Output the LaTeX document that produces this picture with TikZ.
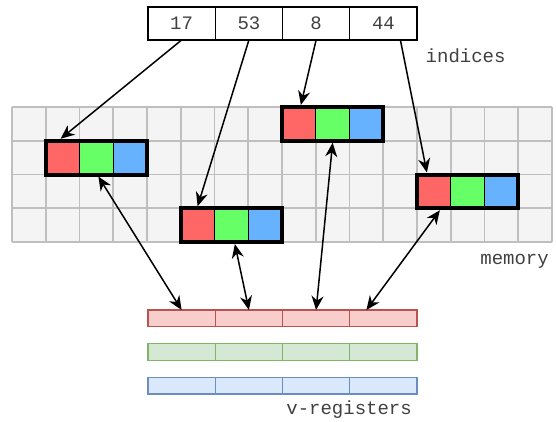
\documentclass[tikz,border=0pt]{standalone}
\usepackage{fontspec}
\setmonofont{Liberation Mono}
\usetikzlibrary{arrows.meta,calc}
\definecolor{memfill}{HTML}{F4F4F4}
\definecolor{memline}{HTML}{BFBFBF}
\definecolor{cred}{HTML}{FF6666}
\definecolor{cgreen}{HTML}{66FF66}
\definecolor{cblue}{HTML}{66B2FF}
\definecolor{rfill}{HTML}{F8CECC}\definecolor{rline}{HTML}{B85450}
\definecolor{gfill}{HTML}{D5E8D4}\definecolor{gline}{HTML}{82B366}
\definecolor{bfill}{HTML}{DAE8FC}\definecolor{bline}{HTML}{6C8EBF}
\begin{document}
\begin{tikzpicture}[x=1pt,y=-1pt,
  lbl/.style={font=\ttfamily\fontsize{19}{19}\selectfont, text=black!75, inner sep=0pt},
  idxcell/.style={draw=black, line width=1.3pt, minimum width=67.25pt, minimum height=33pt, inner sep=0pt, outer sep=0pt, lbl},
  memcell/.style={draw=black, line width=1pt, minimum width=33.75pt, minimum height=33.75pt, inner sep=0pt, outer sep=2pt},
  frame/.style={draw=black, line width=4pt, minimum width=101.25pt, minimum height=33.75pt, inner sep=0pt, outer sep=2pt},
  vcell/.style={line width=1.3pt, minimum width=67.25pt, minimum height=16.5pt, inner sep=0pt, outer sep=0pt},
  tip/.style={Stealth[length=14pt,width=12pt,inset=4.5pt]},
  conn/.style={line width=1.5pt, -{Stealth[length=14pt,width=12pt,inset=4.5pt]}},
  biconn/.style={line width=1.5pt, {Stealth[length=14pt,width=12pt,inset=4.5pt]}-{Stealth[length=14pt,width=12pt,inset=4.5pt]}}
]
\useasboundingbox (0,0) rectangle (556,421);

% index cells
\node[idxcell] (i1) at (181.6,23.5) {17};
\node[idxcell] (i2) at (248.9,23.5) {53};
\node[idxcell] (i3) at (316.1,23.5) {8};
\node[idxcell] (i4) at (383.4,23.5) {44};
\node[lbl, anchor=base west] (lind) at (425.5,62) {indices};

% memory grid
\fill[memfill] (12,107) rectangle (552,242);
\foreach \i in {0,...,16} \draw[memline, line width=1.8pt] ({12+33.75*\i},107) -- ({12+33.75*\i},242);
\foreach \j in {0,...,4} \draw[memline, line width=1.8pt] (12,{107+33.75*\j}) -- (552,{107+33.75*\j});
\node[lbl, anchor=base east] (lmem) at (549,264) {memory};

% blocks: column, row, name
\foreach \c/\r/\n in {1/1/a, 5/3/b, 8/0/c, 12/2/d}{
  \pgfmathsetmacro{\xo}{12+33.75*\c}
  \pgfmathsetmacro{\yo}{107+33.75*\r+16.875}
  \node[memcell, fill=cred]   (\n r) at ({\xo+16.875},\yo) {};
  \node[memcell, fill=cgreen] (\n g) at ({\xo+50.625},\yo) {};
  \node[memcell, fill=cblue]  (\n b) at ({\xo+84.375},\yo) {};
  \node[frame] (\n f) at ({\xo+50.625},\yo) {};
}

% v-registers
\foreach \k/\xx in {1/181.6, 2/248.9, 3/316.1, 4/383.4}{
  \node[vcell, draw=rline, fill=rfill] (vr\k) at (\xx,318.25) {};
  \node[vcell, draw=gline, fill=gfill] (vg\k) at (\xx,352) {};
  \node[vcell, draw=bline, fill=bfill] (vb\k) at (\xx,385.75) {};
}
\node[lbl, anchor=base east] (lvr) at (412,414) {v-registers};

% index -> memory
\draw[conn] (i1.south) -- ([xshift=-2pt]ar.north);
\draw[conn] (i2.south) -- (br.north);
\draw[conn] (i3.south) -- ([xshift=2pt]cr.north);
\draw[conn] ([xshift=17pt]i4.south) -- ([xshift=-7pt]dr.north);

% memory <-> v-registers
\draw[biconn] ([xshift=2pt]ag.south) -- (vr1.north);
\draw[biconn] ([xshift=3.5pt]bg.south) -- (vr2.north);
\draw[biconn] (cg.south) -- (vr3.north);
\draw[biconn] ([xshift=6pt]dr.south) -- ([xshift=-17pt]vr4.north);
\end{tikzpicture}
\end{document}
